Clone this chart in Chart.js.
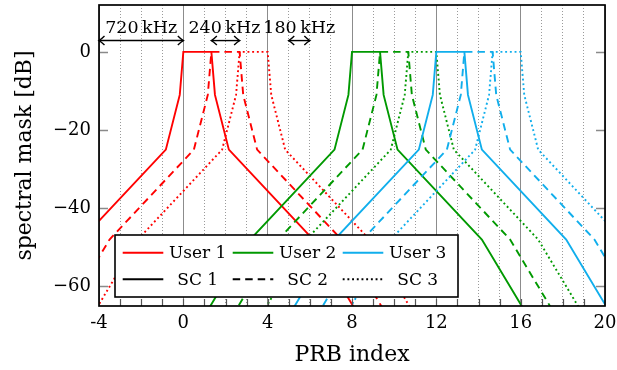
<!DOCTYPE html>
<html>
<head>
<meta charset="utf-8">
<script src="https://cdn.jsdelivr.net/npm/chart.js@4.4.1/dist/chart.umd.min.js"></script>
<style>
  html, body { margin: 0; padding: 0; background: #fff; }
</style>
</head>
<body>
<canvas id="chart" width="617" height="370"></canvas>
<script>
// spectral mask level (dB) at each point of every curve, same shape for all
const maskDb = [-84, -48, -25, -11, 0, 0, -11, -25, -48, -84];

// PRB positions of the mask points, one list per user / sub-carrier
const user1Sc1 = [-8.83, -4.83, -0.83, -0.17, 0, 1.33, 1.50, 2.16, 6.16, 10.16];
const user1Sc2 = [-7.50, -3.50, 0.50, 1.16, 1.33, 2.67, 2.84, 3.50, 7.50, 11.50];
const user1Sc3 = [-6.16, -2.16, 1.84, 2.50, 2.67, 4, 4.17, 4.83, 8.83, 12.83];
const user2Sc1 = [-0.83, 3.17, 7.17, 7.83, 8, 9.33, 9.50, 10.16, 14.16, 18.16];
const user2Sc2 = [0.50, 4.50, 8.50, 9.16, 9.33, 10.67, 10.84, 11.50, 15.50, 19.50];
const user2Sc3 = [1.84, 5.84, 9.84, 10.50, 10.67, 12, 12.17, 12.83, 16.83, 20.83];
const user3Sc1 = [3.17, 7.17, 11.17, 11.83, 12, 13.33, 13.50, 14.16, 18.16, 22.16];
const user3Sc2 = [4.50, 8.50, 12.50, 13.16, 13.33, 14.67, 14.84, 15.50, 19.50, 23.50];
const user3Sc3 = [5.84, 9.84, 13.84, 14.50, 14.67, 16, 16.17, 16.83, 20.83, 24.83];

const userNames = ['User 1', 'User 2', 'User 3'];
const scNames = ['SC 1', 'SC 2', 'SC 3'];
const yTicks = [-60, -40, -20, 0];

// bandwidth annotations at the top
const spanLabels = ['720\u2009kHz', '240\u2009kHz', '180\u2009kHz'];
const spanFrom = [-4, 1.33, 5];
const spanTo = [0, 2.67, 6];
const spanTextX = [-2, 1.95, 5.5];

const userColors = ['#ff0000', '#009900', '#10aeec'];
const scDash = [[], [7.5, 5], [1.9, 2.8]];
const serif = '"DejaVu Serif", serif';

const curves = [
  [user1Sc1, user1Sc2, user1Sc3],
  [user2Sc1, user2Sc2, user2Sc3],
  [user3Sc1, user3Sc2, user3Sc3]
];

const datasets = [];
curves.forEach((scs, u) => {
  scs.forEach((xs, s) => {
    datasets.push({
      label: userNames[u] + ', ' + scNames[s],
      data: xs.map((x, i) => ({ x: x, y: maskDb[i] })),
      borderColor: userColors[u],
      borderWidth: 1.9,
      borderDash: scDash[s],
      pointRadius: 0,
      tension: 0,
      fill: false,
      order: 100 - datasets.length
    });
  });
});

function arrowHead(ctx, tipX, tipY, dir) {
  ctx.beginPath();
  ctx.moveTo(tipX + dir * 5.5, tipY - 4.5);
  ctx.quadraticCurveTo(tipX + dir * 2, tipY - 1, tipX, tipY);
  ctx.quadraticCurveTo(tipX + dir * 2, tipY + 1, tipX + dir * 5.5, tipY + 4.5);
  ctx.stroke();
}

const decor = {
  id: 'decor',
  afterDatasetsDraw(chart) {
    const { ctx, chartArea: a } = chart;
    const xs = chart.scales.x, ys = chart.scales.y;
    ctx.save();

    // y tick marks, left and right, drawn inside
    ctx.strokeStyle = '#8a8a8a';
    ctx.lineWidth = 1.3;
    yTicks.forEach(v => {
      const py = Math.round(ys.getPixelForValue(v)) + 0.5;
      ctx.beginPath();
      ctx.moveTo(a.left, py); ctx.lineTo(a.left + 9, py);
      ctx.moveTo(a.right, py); ctx.lineTo(a.right - 9, py);
      ctx.stroke();
    });

    // bandwidth arrows and labels
    ctx.strokeStyle = '#000';
    ctx.fillStyle = '#000';
    ctx.lineWidth = 1.4;
    ctx.font = '17.5px ' + serif;
    ctx.textAlign = 'center';
    ctx.textBaseline = 'alphabetic';
    spanLabels.forEach((t, i) => {
      const x0 = xs.getPixelForValue(spanFrom[i]);
      const x1 = xs.getPixelForValue(spanTo[i]);
      const py = ys.getPixelForValue(2.9);
      ctx.beginPath();
      ctx.moveTo(x0, py); ctx.lineTo(x1, py);
      ctx.stroke();
      arrowHead(ctx, x0, py, 1);
      arrowHead(ctx, x1, py, -1);
      ctx.fillText(t, xs.getPixelForValue(spanTextX[i]), ys.getPixelForValue(4.9));
    });

    // legend box
    const bx = 115, by = 235, bw = 343, bh = 62;
    ctx.fillStyle = '#fff';
    ctx.fillRect(bx, by, bw, bh);
    ctx.strokeStyle = '#000';
    ctx.lineWidth = 1.6;
    ctx.strokeRect(bx, by, bw, bh);
    ctx.font = '17px ' + serif;
    ctx.textBaseline = 'middle';
    const rows = [252.7, 279.3];
    for (let c = 0; c < 3; c++) {
      const lx = bx + 7.7 + c * 110;
      // user entry
      ctx.setLineDash([]);
      ctx.lineWidth = 1.9;
      ctx.strokeStyle = userColors[c];
      ctx.beginPath(); ctx.moveTo(lx, rows[0]); ctx.lineTo(lx + 40.6, rows[0]); ctx.stroke();
      // sub-carrier entry
      ctx.setLineDash(scDash[c]);
      ctx.strokeStyle = '#000';
      ctx.beginPath(); ctx.moveTo(lx, rows[1]); ctx.lineTo(lx + 40.6, rows[1]); ctx.stroke();
      ctx.setLineDash([]);
      ctx.fillStyle = '#000';
      ctx.fillText(userNames[c], lx + 75, rows[0] + 1);
      ctx.fillText(scNames[c], lx + 75, rows[1] + 1);
    }

    // bottom tick marks at every PRB
    ctx.strokeStyle = '#555';
    ctx.lineWidth = 1.2;
    for (let v = -3; v < 20; v++) {
      const px = Math.round(xs.getPixelForValue(v)) + 0.5;
      ctx.beginPath(); ctx.moveTo(px, a.bottom); ctx.lineTo(px, a.bottom - 7); ctx.stroke();
    }

    // frame
    ctx.strokeStyle = '#000';
    ctx.lineWidth = 1.7;
    ctx.strokeRect(a.left, a.top, a.right - a.left, a.bottom - a.top);
    ctx.restore();
  }
};

const ctx = document.getElementById('chart').getContext('2d');
const chart = new Chart(ctx, {
  type: 'line',
  data: { datasets: datasets },
  options: {
    responsive: false,
    animation: false,
    layout: { padding: { top: 5, right: 12, left: 0, bottom: 0 } },
    plugins: { legend: { display: false }, tooltip: { enabled: false } },
    scales: {
      x: {
        type: 'linear',
        min: -4,
        max: 20,
        afterFit: s => { s.height = 64; s.paddingLeft = 0; s.paddingRight = 0; },
        ticks: {
          stepSize: 1,
          autoSkip: false,
          maxRotation: 0,
          padding: 7,
          color: '#000',
          font: { family: serif, size: 18 },
          callback: v => Math.round(v) % 4 === 0 ? String(Math.round(v)) : ''
        },
        grid: {
          drawTicks: false,
          lineWidth: 1,
          color: c => (c.tick && Math.round(c.tick.value) % 4 === 0) ? '#8c8c8c' : '#9a9a9a'
        },
        border: {
          display: false,
          dash: c => (c.tick && Math.round(c.tick.value) % 4 !== 0) ? [1, 2] : []
        },
        title: {
          display: true,
          text: 'PRB index',
          color: '#000',
          font: { family: serif, size: 22 },
          padding: { top: 0, bottom: 2 }
        }
      },
      y: {
        min: -65,
        max: 12,
        afterFit: s => { s.width = 99; s.paddingTop = 0; s.paddingBottom = 0; },
        afterBuildTicks: s => { s.ticks = yTicks.map(v => ({ value: v })); },
        ticks: {
          padding: 8,
          color: '#000',
          font: { family: serif, size: 18 },
          callback: v => v < 0 ? '\u2212' + Math.abs(v) : String(v)
        },
        grid: { display: false, drawTicks: false },
        border: { display: false },
        title: {
          display: true,
          text: 'spectral mask [dB]',
          color: '#000',
          font: { family: serif, size: 22 },
          padding: { top: 12, bottom: 0 }
        }
      }
    }
  },
  plugins: [decor]
});
</script>
</body>
</html>
